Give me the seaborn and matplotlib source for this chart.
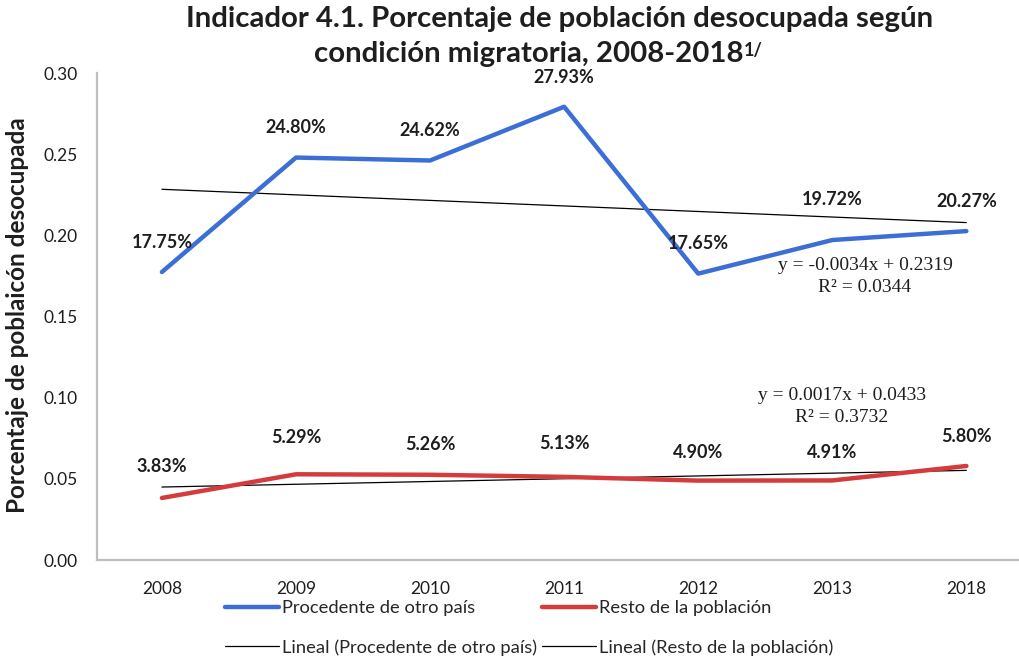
import numpy as np
import pandas as pd
import matplotlib
matplotlib.use("Agg")
import matplotlib.pyplot as plt
import seaborn as sns
from matplotlib.lines import Line2D

years = ["2008", "2009", "2010", "2011", "2012", "2013", "2018"]
procedente = [0.1775, 0.2480, 0.2462, 0.2793, 0.1765, 0.1972, 0.2027]
resto = [0.0383, 0.0529, 0.0526, 0.0513, 0.0490, 0.0491, 0.0580]
eq_proc = ["y = -0.0034x + 0.2319", "R\u00b2 = 0.0344"]
eq_resto = ["y = 0.0017x + 0.0433", "R\u00b2 = 0.3732"]
yticks = [0.00, 0.05, 0.10, 0.15, 0.20, 0.25, 0.30]
series_names = ["Procedente de otro país", "Resto de la población"]

sns.set_theme(style="white")
plt.rcParams["font.family"] = ["Lato", "DejaVu Sans"]

BLUE = "#3C6FD6"
RED = "#D63B3B"
INK = "#1E1E1E"

df = pd.DataFrame({"x": np.arange(len(years)), "proc": procedente, "resto": resto})

fig = plt.figure(figsize=(10.2, 6.59), dpi=100)
ax = fig.add_axes([0.095, 0.150, 0.905, 0.739])

# trend lines (least squares, as in the Excel "Lineal" trendline)
sns.regplot(data=df, x="x", y="proc", ax=ax, scatter=False, ci=None, truncate=True,
            line_kws=dict(color="black", lw=0.9))
sns.regplot(data=df, x="x", y="resto", ax=ax, scatter=False, ci=None, truncate=True,
            line_kws=dict(color="black", lw=0.9))
# main lines
sns.lineplot(data=df, x="x", y="proc", ax=ax, color=BLUE, lw=3.2)
sns.lineplot(data=df, x="x", y="resto", ax=ax, color=RED, lw=3.2)

off_proc = [30, 30, 30, 29, 30, 41, 30]
off_resto = [31, 37, 30, 33, 28, 28, 29]
for i, v in enumerate(procedente):
    ax.annotate(f"{v*100:.2f}%", (i, v), xytext=(0, off_proc[i]), textcoords="offset pixels",
                ha="center", va="center", fontsize=13, fontweight="bold", color=INK)
for i, v in enumerate(resto):
    ax.annotate(f"{v*100:.2f}%", (i, v), xytext=(0, off_resto[i]), textcoords="offset pixels",
                ha="center", va="center", fontsize=13, fontweight="bold", color=INK)

serif = ["Liberation Serif", "DejaVu Serif"]
for txt, (xp, yp) in zip(eq_proc + eq_resto, [(865, 265), (865, 288), (842, 395), (842, 418)]):
    fig.text(xp / 1020, 1 - yp / 659, txt, ha="center", va="center", fontsize=14, family=serif, color=INK)

ax.set_xlim(-0.485, 6.40)
ax.set_ylim(0, 0.30)
ax.set_yticks(yticks)
ax.set_yticklabels([f"{t:.2f}" for t in yticks], fontsize=12.5, color=INK)
ax.set_xticks(range(len(years)))
ax.set_xticklabels(years, fontsize=12.5, color=INK)
ax.tick_params(axis="y", length=0, pad=14)
ax.tick_params(axis="x", length=0, pad=15)
ax.set_xlabel("")
ax.set_ylabel("")
for s in ["top", "right"]:
    ax.spines[s].set_visible(False)
for s in ["left", "bottom"]:
    ax.spines[s].set_color("#BFBFBF")
    ax.spines[s].set_linewidth(1.6)
ax.set_facecolor("none")

fig.text(18 / 1020, 1 - 315 / 659, "Porcentaje de poblaicón desocupada", rotation=90,
         ha="center", va="center", fontsize=17.5, fontweight="bold", color=INK)

fig.text(560 / 1020, 1 - 19 / 659, "Indicador 4.1. Porcentaje de población desocupada según",
         ha="center", va="center", fontsize=21.2, fontweight="bold", color=INK)
t2 = fig.text(529 / 1020, 1 - 54 / 659, "condición migratoria, 2008-2018",
              ha="center", va="center", fontsize=21.2, fontweight="bold", color=INK)
fig.canvas.draw()
ax.annotate("1/", xy=(1, 1), xycoords=t2, xytext=(0, -1), textcoords="offset points",
            ha="left", va="top", fontsize=13, fontweight="bold", color=INK)

handles = [Line2D([], [], color=BLUE, lw=3.2), Line2D([], [], color="black", lw=0.9),
           Line2D([], [], color=RED, lw=3.2), Line2D([], [], color="black", lw=0.9)]
labels = [series_names[0], f"Lineal ({series_names[0]})",
          series_names[1], f"Lineal ({series_names[1]})"]
fig.legend(handles, labels, loc="center", bbox_to_anchor=(529 / 1020, 1 - 628 / 659), ncol=2,
           frameon=False, fontsize=13.2, handlelength=2.95, handletextpad=0.16, columnspacing=0.27,
           labelspacing=1.24, borderpad=0)

fig.savefig("out.png", dpi=100)
